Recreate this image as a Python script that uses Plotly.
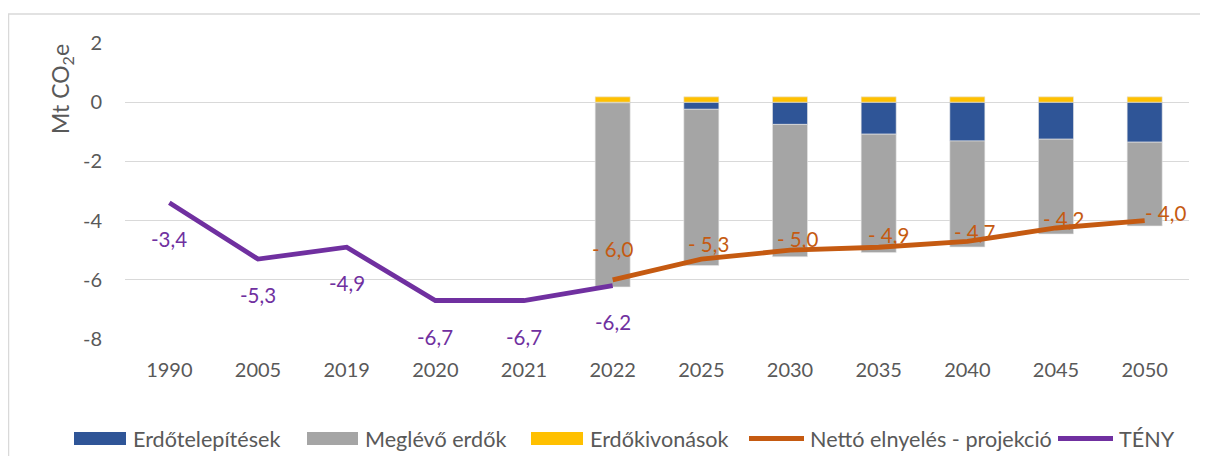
import plotly.graph_objects as go

categories = ["1990", "2005", "2019", "2020", "2021", "2022", "2025", "2030", "2035", "2040", "2045", "2050"]
bar_categories = ["2022", "2025", "2030", "2035", "2040", "2045", "2050"]
afforestation = [-0.02, -0.24, -0.75, -1.08, -1.31, -1.25, -1.35]
existing_forests = [-6.22, -5.28, -4.47, -4.00, -3.58, -3.20, -2.83]
deforestation = [0.18, 0.18, 0.18, 0.18, 0.18, 0.18, 0.18]
net_projection = [-6.0, -5.3, -5.0, -4.9, -4.7, -4.25, -4.0]
net_projection_labels = ["- 6,0", "- 5,3", "- 5,0", "- 4,9", "- 4,7", "- 4,2", "- 4,0"]
fact_categories = ["1990", "2005", "2019", "2020", "2021", "2022"]
fact_values = [-3.4, -5.3, -4.9, -6.7, -6.7, -6.2]
fact_labels = ["-3,4", "-5,3", "-4,9", "-6,7", "-6,7", "-6,2"]
y_ticks = [2, 0, -2, -4, -6, -8]
y_tick_text = ["2", "0", "-2", "-4", "-6", "-8"]

FONT = "Lato, 'Open Sans', sans-serif"
TXT = "#595959"
BLUE = "#2F5597"
GRAY = "#A5A5A5"
YELLOW = "#FFC000"
ORANGE = "#C55A11"
PURPLE = "#7030A0"

# The page body has an 8px margin, so the figure is sized to fit the window.
OFF = 8
W, H = 1208 - OFF, 456 - OFF
ML, MR, MT, MB = 125 - OFF, 19, 43 - OFF, 117


def px(x):
    """page x pixel -> paper coordinate"""
    return (x - OFF - ML) / (W - ML - MR)


def py(y):
    """page y pixel -> paper coordinate"""
    return (H - MB - (y - OFF)) / (H - MT - MB)


idx = {c: i for i, c in enumerate(categories)}

fig = go.Figure()
edge = dict(color="#E6E6E6", width=0.6)
fig.add_trace(go.Bar(x=[idx[c] for c in bar_categories], y=afforestation, name="Erdőtelepítések",
                     marker=dict(color=BLUE, line=edge)))
fig.add_trace(go.Bar(x=[idx[c] for c in bar_categories], y=existing_forests, name="Meglévő erdők",
                     marker=dict(color=GRAY, line=edge)))
fig.add_trace(go.Bar(x=[idx[c] for c in bar_categories], y=deforestation, name="Erdőkivonások",
                     marker=dict(color=YELLOW, line=edge)))
fig.add_trace(go.Scatter(x=[idx[c] for c in bar_categories], y=net_projection,
                         name="Nettó elnyelés - projekció", mode="lines",
                         line=dict(color=ORANGE, width=4.8)))
fig.add_trace(go.Scatter(x=[idx[c] for c in fact_categories], y=fact_values, name="TÉNY",
                         mode="lines", line=dict(color=PURPLE, width=4.8)))

# data labels (label offsets in pixels are styling)
proj_xshift = [0, 7, 7, 10, 7, 7, 21]
proj_yshift = [31, 15, 11, 12, 9, 9, 8]
for c, v, t, dx, dy in zip(bar_categories, net_projection, net_projection_labels, proj_xshift, proj_yshift):
    fig.add_annotation(x=idx[c], y=v, text=t, showarrow=False, xshift=dx, yshift=dy,
                       font=dict(family=FONT, size=20.5, color=ORANGE))
for c, v, t in zip(fact_categories, fact_values, fact_labels):
    fig.add_annotation(x=idx[c], y=v, text=t, showarrow=False, yshift=-36,
                       font=dict(family=FONT, size=20.5, color=PURPLE))

# y-axis title
fig.add_annotation(xref="paper", yref="paper", x=px(61), y=py(89), text="Mt CO<sub>2</sub>e",
                   xanchor="center", yanchor="middle",
                   textangle=-90, showarrow=False, font=dict(family=FONT, size=23, color=TXT))

# chart border
fig.add_shape(type="rect", xref="paper", yref="paper", x0=px(8.5), x1=px(1240), y0=py(490), y1=py(14),
              line=dict(color="#D9D9D9", width=1.5), fillcolor="rgba(0,0,0,0)", layer="below")

# legend (drawn manually to reproduce wide swatches)
legend_items = [
    ("Erdőtelepítések", BLUE, "box", 74, 126, 131),
    ("Meglévő erdők", GRAY, "box", 307, 358, 363),
    ("Erdőkivonások", YELLOW, "box", 531, 583, 588),
    ("Nettó elnyelés - projekció", ORANGE, "line", 749, 804, 808),
    ("TÉNY", PURPLE, "line", 1058, 1113, 1117),
]
LY = 438.5
for name, col, kind, x0, x1, xt in legend_items:
    if kind == "box":
        fig.add_shape(type="rect", xref="paper", yref="paper", x0=px(x0), x1=px(x1),
                      y0=py(LY + 6.5), y1=py(LY - 6.5), line=dict(width=0), fillcolor=col)
    else:
        fig.add_shape(type="line", xref="paper", yref="paper", x0=px(x0), x1=px(x1),
                      y0=py(LY), y1=py(LY), line=dict(color=col, width=4.8))
    fig.add_annotation(xref="paper", yref="paper", x=px(xt), y=py(LY), text=name, showarrow=False,
                       xanchor="left", yanchor="middle", font=dict(family=FONT, size=21.6, color=TXT))

fig.update_layout(
    width=W, height=H,
    margin=dict(l=ML, r=MR, t=MT, b=MB, autoexpand=False),
    paper_bgcolor="white", plot_bgcolor="white",
    barmode="relative", bargap=0.605,
    font=dict(family=FONT, size=20, color=TXT),
    showlegend=False,
    xaxis=dict(range=[-0.5, len(categories) - 0.5], tickvals=list(range(len(categories))),
               ticktext=categories, showgrid=False, showline=False, zeroline=False, ticks="",
               ticklabelstandoff=17, tickfont=dict(family=FONT, size=20, color=TXT)),
    yaxis=dict(range=[-8, 2], tickvals=y_ticks, ticktext=y_tick_text, showgrid=True,
               gridcolor="#D9D9D9", gridwidth=1.2, zeroline=False, showline=False,
               ticks="", ticklabelstandoff=22, tickfont=dict(family=FONT, size=20, color=TXT)),
)

fig.write_html("out.html")
